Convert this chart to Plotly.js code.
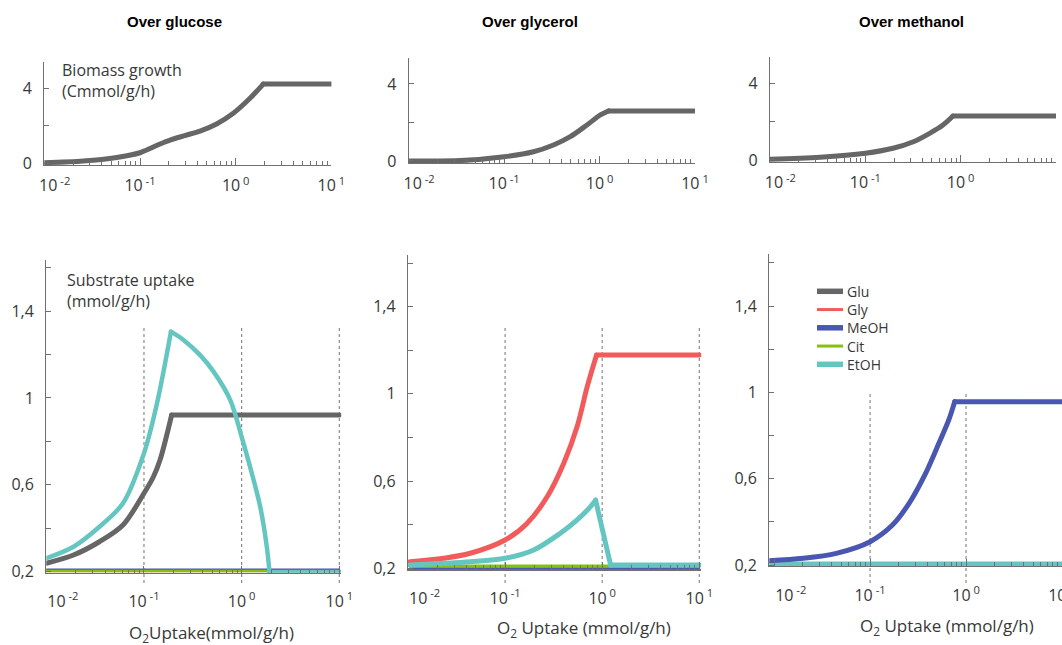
<!DOCTYPE html>
<html>
<head>
<meta charset="utf-8">
<script src="https://cdn.plot.ly/plotly-3.0.1.min.js"></script>
<style>
html,body{margin:0;padding:0;background:#fff}
#chart{width:1062px;height:645px}
path.js-line{stroke-linecap:round !important;stroke-linejoin:round !important}
</style>
</head>
<body>
<div id="chart"></div>
<script>
// ---------- data ----------
// Top row: biomass growth (Cmmol/g/h) vs O2 uptake (mmol/g/h)
const glcO2 = [0.01, 0.0256, 0.0571, 0.1, 0.1175, 0.162, 0.206, 0.3, 0.424, 0.631, 0.944, 1.41, 1.94, 10];
const glcBiomass = [0.02, 0.11, 0.30, 0.55, 0.70, 1.02, 1.23, 1.48, 1.71, 2.09, 2.66, 3.46, 4.22, 4.22];

const glyO2 = [0.01, 0.0345, 0.1, 0.203, 0.329, 0.493, 0.738, 1.02, 1.24, 10];
const glyBiomass = [0.0, 0.02, 0.22, 0.48, 0.83, 1.26, 1.87, 2.39, 2.6, 2.6];

const metO2 = [0.01, 0.0335, 0.1, 0.195, 0.319, 0.473, 0.652, 0.83, 10];
const metBiomass = [0.04, 0.14, 0.35, 0.61, 0.95, 1.39, 1.82, 2.29, 2.29];

// Bottom row: substrate uptake (mmol/g/h)
// over glucose
const gluO2 = [0.01, 0.019, 0.035, 0.061, 0.1, 0.125, 0.146, 0.192, 10];
const gluUptake = [0.239, 0.277, 0.338, 0.415, 0.561, 0.637, 0.714, 0.921, 0.921];
const etohGlcO2 = [0.01, 0.019, 0.035, 0.061, 0.1, 0.136, 0.189, 0.254, 0.376, 0.516, 0.765, 1.0, 1.22, 1.55, 1.81, 1.93, 10];
const etohGlc = [0.262, 0.315, 0.407, 0.515, 0.745, 0.975, 1.305, 1.267, 1.197, 1.121, 0.99, 0.821, 0.683, 0.499, 0.315, 0.198, 0.198];
const flatGlcO2 = [0.01, 10];
const glyZeroGlc = [0.205, 0.205];
const citZeroGlc = [0.205, 0.205];
const meohZeroGlc = [0.212, 0.212];

// over glycerol
const glyUpO2 = [0.0105, 0.0232, 0.0437, 0.1, 0.168, 0.271, 0.402, 0.552, 0.701, 0.875, 10];
const glyUptake = [0.230, 0.246, 0.269, 0.330, 0.406, 0.528, 0.682, 0.850, 1.033, 1.178, 1.178];
const etohGlyO2 = [0.0105, 0.0437, 0.1, 0.197, 0.371, 0.552, 0.759, 0.855, 1.22, 10];
const etohGly = [0.215, 0.230, 0.246, 0.284, 0.361, 0.422, 0.483, 0.513, 0.215, 0.215];
const flatGlyO2 = [0.0105, 10];
const meohZeroGly = [0.200, 0.200];
const citZeroGly = [0.211, 0.211];

// over methanol
const meohO2 = [0.0089, 0.0201, 0.0445, 0.1, 0.171, 0.255, 0.379, 0.521, 0.661, 0.762, 10];
const meohUptake = [0.22, 0.231, 0.254, 0.308, 0.385, 0.486, 0.625, 0.764, 0.872, 0.957, 0.957];
const flatMetO2 = [0.0089, 10];
const etohZeroMet = [0.205, 0.205];

// legend entries
const legendNames = ['Glu', 'Gly', 'MeOH', 'Cit', 'EtOH'];

// axis ticks
const majorX = [0.01, 0.1, 1, 10];
const minorX = [0.02,0.03,0.04,0.05,0.06,0.07,0.08,0.09,0.2,0.3,0.4,0.5,0.6,0.7,0.8,0.9,2,3,4,5,6,7,8,9];
const topYVals = [0, 2, 4];
const topYText = ['0', '', '4'];
const botYVals = [0.2, 0.4, 0.6, 0.8, 1.0, 1.2, 1.4, 1.6];
const botYText = ['0,2', '', '0,6', '', '1', '', '1,4', ''];
const gridDecades = [0.1, 1, 10];

// ---------- styling ----------
const W = 1062, H = 645;
const C = {Glu:'#666666', Gly:'#f25b5b', MeOH:'#4a57b1', Cit:'#84c20e', EtOH:'#65c6c1'};
const legendWidths = {Glu:5.5, Gly:3, MeOH:5.5, Cit:3, EtOH:5.5};
const FONT = 'Open Sans, Noto Sans, sans-serif';
const AX = '#707070';
const TXT = '#383838';

function dx(a, b){ return [a / W, b / W]; }
function dy(top, bottom){ return [1 - bottom / H, 1 - top / H]; }

function sup(e){ return '10<sup> ' + e + '</sup>'; }
function xText(pad){ return [pad + sup('-2'), sup('-1'), sup('0'), sup('1')]; }

function xAxis(dom, rng, yname, pad, standoff, extra){
  return Object.assign({type:'log', domain:dom, range:rng, anchor:yname,
    showline:true, linecolor:AX, linewidth:1.2, zeroline:false, showgrid:false,
    ticks:'inside', ticklen:7, tickwidth:1, tickcolor:AX,
    tickmode:'array', tickvals:majorX, ticktext:xText(pad),
    minor:{tickmode:'array', tickvals:minorX, ticks:'inside', ticklen:4, tickwidth:1, tickcolor:AX, showgrid:false},
    tickfont:{family:FONT, size:16, color:TXT}, ticklabelstandoff:standoff, fixedrange:true}, extra||{});
}
function yAxis(dom, rng, xname, vals, text){
  return {domain:dom, range:rng, anchor:xname,
    showline:true, linecolor:AX, linewidth:1.2, zeroline:false, showgrid:false,
    ticks:'inside', ticklen:5, tickwidth:1, tickcolor:AX,
    tickmode:'array', tickvals:vals, ticktext:text,
    tickfont:{family:FONT, size:16, color:TXT}, ticklabelstandoff:8, fixedrange:true};
}

// A series is drawn as smooth pieces between its sharp corners (indices into the data).
function series(x, y, ax, color, width, corners){
  const cuts = [0].concat(corners || [], [x.length - 1]);
  const out = [];
  for (let k = 0; k < cuts.length - 1; k++){
    const a = cuts[k], b = cuts[k + 1];
    out.push({type:'scatter', mode:'lines', x:x.slice(a, b + 1), y:y.slice(a, b + 1),
      xaxis:'x' + ax, yaxis:'y' + ax, showlegend:false, hoverinfo:'skip',
      line:{color:color, width:width, shape:'spline', smoothing:0.9}});
  }
  return out;
}

const nb = '\u00a0';
const traces = [].concat(
  series(glcO2, glcBiomass, '', C.Glu, 5, [12]),
  series(glyO2, glyBiomass, '2', C.Glu, 5, [8]),
  series(metO2, metBiomass, '3', C.Glu, 5, [7]),

  series(flatGlcO2, glyZeroGlc, '4', C.Gly, 3),
  series(flatGlcO2, citZeroGlc, '4', C.Cit, 3),
  series(flatGlcO2, meohZeroGlc, '4', C.MeOH, 1.2),
  series(gluO2, gluUptake, '4', C.Glu, 5, [7]),
  series(etohGlcO2, etohGlc, '4', C.EtOH, 4.5, [6, 15]),

  series(flatGlyO2, meohZeroGly, '5', C.MeOH, 2),
  series(flatGlyO2, citZeroGly, '5', C.Cit, 3),
  series(glyUpO2, glyUptake, '5', C.Gly, 5, [9]),
  series(etohGlyO2, etohGly, '5', C.EtOH, 5, [7, 8]),

  series(flatMetO2, etohZeroMet, '6', C.EtOH, 5),
  series(meohO2, meohUptake, '6', C.MeOH, 5, [9])
);

const layout = {
  width:W, height:H, margin:{l:0, r:0, t:0, b:0},
  paper_bgcolor:'#fff', plot_bgcolor:'rgba(0,0,0,0)',
  showlegend:false,
  xaxis:  xAxis(dx(44.3, 331.4), [-2, 1], 'y', nb.repeat(5), 6),
  yaxis:  yAxis(dy(62, 164.9), [-0.1, 5.4], 'x', topYVals, topYText),
  xaxis2: xAxis(dx(408.7, 695), [-2, 1], 'y2', nb.repeat(5), 6),
  yaxis2: yAxis(dy(58, 162.9), [-0.1, 5.35], 'x2', topYVals, topYText),
  xaxis3: xAxis(dx(770, 1056), [-2, 1], 'y3', nb.repeat(5), 6),
  yaxis3: yAxis(dy(57.3, 161.9), [-0.1, 5.35], 'x3', topYVals, topYText),
  xaxis4: xAxis(dx(46.3, 341.3), [-2, 1.0205], 'y4', nb.repeat(8), 14),
  yaxis4: yAxis(dy(260, 572.8), [0.195, 1.635], 'x4', botYVals, botYText),
  xaxis5: xAxis(dx(408, 701.3), [-2, 1.0206], 'y5', nb.repeat(8), 14),
  yaxis5: yAxis(dy(255, 569.4), [0.195, 1.637], 'x5', botYVals, botYText),
  xaxis6: xAxis(dx(769.3, 1062), [-2.05, 1], 'y6', nb.repeat(8), 14, {ticklabeloverflow:'allow'}),
  yaxis6: yAxis(dy(254, 566.1), [0.195, 1.641], 'x6', botYVals, botYText),
  shapes:[], annotations:[]
};

// dotted decade guides in the bottom row
const guideSpans = [['x4', 326, 583, gridDecades], ['x5', 326, 583, gridDecades], ['x6', 391, 583, gridDecades.slice(0, 2)]];
guideSpans.forEach(function(g){
  g[3].forEach(function(v){
    layout.shapes.push({type:'line', xref:g[0], yref:'paper', x0:v, x1:v,
      y0:1-g[2]/H, y1:1-g[1]/H, layer:'below', line:{color:'#8a8a8a', width:1.2, dash:'dot'}});
  });
});

function ann(text, xpx, ypx, opts){
  const a = Object.assign({text:text, xref:'paper', yref:'paper', x:xpx/W, y:1-ypx/H,
    showarrow:false, xanchor:'center', yanchor:'middle',
    font:{family:FONT, size:16, color:TXT}}, opts||{});
  layout.annotations.push(a);
}

// legend (drawn in the methanol substrate panel)
const LEG = {x0:817, x1:843, tx:845, y0:291.3, dy:18.25};
legendNames.forEach(function(n, i){
  const yy = LEG.y0 + i * LEG.dy;
  layout.shapes.push({type:'line', xref:'paper', yref:'paper', x0:LEG.x0/W, x1:LEG.x1/W,
    y0:1-yy/H, y1:1-yy/H, line:{color:C[n], width:legendWidths[n]}});
  ann(n, LEG.tx, yy, {xanchor:'left', font:{family:FONT, size:14, color:TXT}});
});

const titleFont = {family:'Liberation Sans, Arial, sans-serif', size:15, color:'#000'};
ann('<b>Over glucose</b>', 174, 21, {font:titleFont});
ann('<b>Over glycerol</b>', 530, 22, {font:titleFont});
ann('<b>Over methanol</b>', 911, 22, {font:titleFont});
ann('Biomass growth<br>(Cmmol/g/h)', 60, 81, {xanchor:'left', align:'left'});
ann('Substrate uptake<br>(mmol/g/h)', 65, 290, {xanchor:'left', align:'left'});
ann('O<sub>2</sub>Uptake(mmol/g/h)', 211, 633, {font:{family:FONT, size:17, color:TXT}});
ann('O<sub>2</sub> Uptake (mmol/g/h)', 584, 628, {font:{family:FONT, size:17, color:TXT}});
ann('O<sub>2</sub> Uptake (mmol/g/h)', 947, 626, {font:{family:FONT, size:17, color:TXT}});

Plotly.newPlot('chart', traces, layout, {displayModeBar:false, staticPlot:true});
</script>
</body>
</html>
